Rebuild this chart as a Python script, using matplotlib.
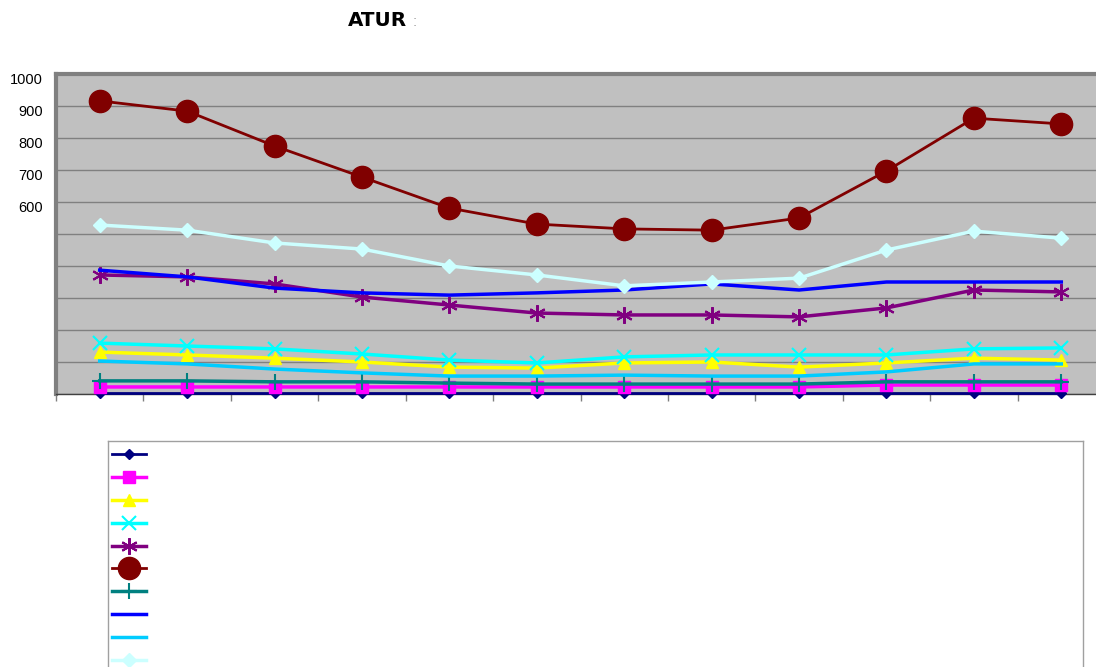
"""
ATUR 月度折线图 - Excel 风格复刻
"""
import matplotlib
matplotlib.use("Agg")
import matplotlib.pyplot as plt
import matplotlib.transforms as mtransforms

# ============================================================
# 数据
# ============================================================

months = list(range(12))

s_navy = [2, 2, 2, 2, 2, 2, 2, 2, 2, 2, 2, 2]
s_magenta = [22, 22, 22, 22, 22, 22, 22, 22, 22, 28, 28, 28]
s_yellow = [131, 122, 112, 100, 84, 81, 97, 100, 84, 97, 112, 106]
s_cyan = [159, 150, 141, 125, 106, 97, 116, 122, 122, 122, 141, 144]
s_purple = [372, 366, 344, 303, 278, 253, 247, 247, 241, 269, 325, 319]
s_darkred = [916, 884, 775, 678, 581, 531, 516, 512, 550, 697, 862, 844]
s_teal = [41, 41, 38, 38, 34, 31, 31, 31, 31, 38, 38, 38]
s_blue = [387, 366, 331, 316, 309, 316, 325, 344, 325, 350, 350, 350]
s_sky = [103, 94, 78, 66, 56, 56, 59, 56, 56, 69, 94, 94]
s_pale = [528, 512, 472, 453, 400, 372, 338, 350, 362, 450, 509, 487]

y_ticks = list(range(0, 1001, 100))
y_tick_labels = ["" if v < 600 else str(v) for v in y_ticks]

# 系列样式 (颜色, 标记, 标记大小, 线宽)
SERIES = [
    (s_navy, "#000080", "D", 5, 2.0),
    (s_magenta, "#FF00FF", "s", 8, 2.5),
    (s_yellow, "#FFFF00", "^", 9, 2.5),
    (s_cyan, "#00FFFF", "x", 10, 2.5),
    (s_purple, "#800080", (6, 2, 0), 12, 2.5),
    (s_darkred, "#800000", "o", 16, 2.0),
    (s_teal, "#008080", "+", 12, 2.5),
    (s_blue, "#0000FF", None, 0, 2.5),
    (s_sky, "#00CCFF", None, 0, 2.5),
    (s_pale, "#CCFFFF", "D", 7, 2.5),
]

W, H = 1096, 667

plt.rcParams.update({
    "font.family": ["Liberation Sans", "DejaVu Sans"],
    "font.size": 10,
})

fig = plt.figure(figsize=(W / 100, H / 100), dpi=100)
fig.patch.set_facecolor("white")

# ============================================================
# 主图区域
# ============================================================
ax_l, ax_r, ax_t, ax_b = 56, 1105, 74, 394
ax = fig.add_axes([ax_l / W, 1 - ax_b / H, (ax_r - ax_l) / W, (ax_b - ax_t) / H])
ax.set_facecolor("#C0C0C0")

for vals, color, marker, ms, lw in SERIES:
    ax.plot(months, vals, color=color, marker=marker, markersize=ms,
            linewidth=lw, markeredgewidth=1.5 if marker in ("x", "+", (6, 2, 0)) else 1,
            markeredgecolor=color, clip_on=False, zorder=3)

ax.set_xlim(-0.5, 11.5)
ax.set_ylim(0, 1000)
ax.set_yticks(y_ticks)
ax.set_yticklabels(y_tick_labels)
ax.set_xticks([m - 0.5 for m in range(13)])
ax.set_xticklabels([])
ax.tick_params(axis="y", length=0, pad=9.4, labelsize=10.5, labelcolor="black")
ax.tick_params(axis="x", length=5, direction="out", color="#808080", width=1)

# Y 轴标签略微下移（Excel 渲染效果）
shift = mtransforms.ScaledTranslation(0, -5 / 100, fig.dpi_scale_trans)
for lbl in ax.get_yticklabels():
    lbl.set_transform(lbl.get_transform() + shift)

ax.grid(axis="y", color="#808080", linewidth=1)
ax.set_axisbelow(True)

# 边框：左上粗灰、底部细黑
ax.spines["left"].set_color("#808080")
ax.spines["left"].set_linewidth(3)
ax.spines["top"].set_color("#808080")
ax.spines["top"].set_linewidth(3)
ax.spines["bottom"].set_color("#404040")
ax.spines["bottom"].set_linewidth(1)
ax.spines["right"].set_visible(False)

# 标题
fig.text(348 / W, 1 - 21 / H, "ATUR", fontsize=14.3, fontweight="bold",
         family="DejaVu Sans", ha="left", va="center", color="black")
fig.text(413 / W, 1 - 22 / H, ":", fontsize=11, ha="left", va="center", color="#A0A0A0")

# ============================================================
# 图例（手绘，无文字）
# ============================================================
lg_l, lg_r, lg_t, lg_b = 108, 1083, 441, 700
lg = fig.add_axes([lg_l / W, 1 - lg_b / H, (lg_r - lg_l) / W, (lg_b - lg_t) / H])
lg.set_xlim(lg_l, lg_r)
lg.set_ylim(lg_b, lg_t)
lg.set_xticks([])
lg.set_yticks([])
lg.set_facecolor("white")
for sp in lg.spines.values():
    sp.set_color("#A0A0A0")
    sp.set_linewidth(1)

for i, (vals, color, marker, ms, lw) in enumerate(SERIES):
    y = 454 + i * 22.9
    lg.plot([112, 146], [y, y], color=color, linewidth=lw)
    if marker is not None:
        lg.plot([129], [y], color=color, marker=marker, markersize=ms,
                markeredgewidth=1.5 if marker in ("x", "+", (6, 2, 0)) else 1,
                markeredgecolor=color)

fig.savefig("out.png", dpi=100, facecolor="white")
